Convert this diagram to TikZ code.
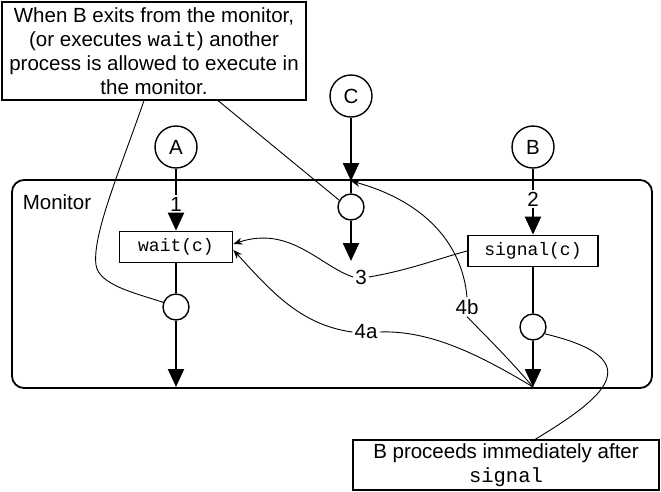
\documentclass[tikz,border=0pt]{standalone}
\usepackage{fontspec}
\setmainfont{Liberation Sans}
\setmonofont{Liberation Mono}
\usetikzlibrary{arrows.meta}
\begin{document}
\begin{tikzpicture}[x=1pt,y=-1pt,
  txt/.style={font=\fontsize{20.5}{24}\selectfont},
  proc/.style={draw, circle, line width=1.4pt, minimum size=42pt, inner sep=0pt, txt},
  cond/.style={draw, circle, line width=1.4pt, minimum size=26pt, inner sep=0pt},
  opbox/.style={draw, line width=1.8pt, font=\fontsize{18}{20}\selectfont\ttfamily, inner sep=0pt, minimum height=31pt},
  flow/.style={line width=2.3pt, -{Triangle[length=18pt,width=16pt]}},
  flowline/.style={line width=2.3pt},
  thinline/.style={line width=0.9pt},
  thinarrow/.style={line width=0.9pt, -{Stealth[length=9pt,width=7pt]}},
  lbl/.style={txt, inner sep=2pt},
  note/.style={draw, line width=1.1pt, txt, align=center, inner sep=0pt},
]
\useasboundingbox (0,0) rectangle (661,491);

% monitor
\node[draw, line width=1.8pt, rounded corners=12pt, minimum width=640pt, minimum height=208pt] (mon) at (332,284) {};
\node[txt] (monlbl) at (57,202) {Monitor};

% notes
\node[note, minimum width=304pt, minimum height=98pt] (top) at (154,51)
  {When B exits from the monitor,\\(or executes \texttt{wait}) another\\process is allowed to execute in\\the monitor.};
\node[note, minimum width=306pt, minimum height=50pt] (bot) at (506,465)
  {B proceeds immediately after\\\texttt{signal}};

% processes
\node[proc] (A) at (176,147) {A};
\node[proc] (B) at (533,147) {B};
\node[proc] (C) at (351,96) {C};

\node[lbl] (l1) at (176,204) {1};
\node[lbl] (l2) at (533,199) {2};

\node[opbox, minimum width=113pt] (wait) at (176,247) {wait(c)};
\node[opbox, minimum width=130pt] (sig) at (533,251) {signal(c)};

\node[cond] (cw) at (176,307) {};
\node[cond] (cc) at (351,207) {};
\node[cond] (cs) at (533,327) {};

\coordinate (ctop) at (351,181);
\coordinate (cend) at (351,261);
\coordinate (wend) at (176,387);
\coordinate (send) at (533,387);

% main flow
\draw[flowline] (A) -- (l1);
\draw[flow] (l1) -- (wait);
\draw[flowline] (B) -- (l2);
\draw[flow] (l2) -- (sig);
\draw[flow] (C) -- (ctop);
\draw[flowline] (ctop) -- (cc);
\draw[flow] (cc) -- (cend);
\draw[flowline] (wait) -- (cw);
\draw[flow] (cw) -- (wend);
\draw[flowline] (sig) -- (cs);
\draw[flow] (cs) -- (send);

% thin labelled curves
\node[lbl] (l3) at (361,277) {3};
\node[lbl] (l4a) at (366,332) {4a};
\node[lbl] (l4b) at (467,307) {4b};

\draw[thinline] (sig.west) .. controls (440,258) and (410,270) .. (l3.east);
\draw[thinarrow] (l3.west) .. controls (320,266) and (290,225) .. (wait.3);
\draw[thinline] (send) .. controls (480,355) and (430,330) .. (l4a.east);
\draw[thinarrow] (l4a.west) .. controls (300,325) and (270,290) .. (wait.-3);
\draw[thinline] (send) .. controls (510,360) and (485,335) .. (l4b.south);
\draw[thinarrow] (l4b.north) .. controls (462,240) and (420,200) .. (ctop);

% callout lines
\draw[thinline] ([xshift=-10pt]top.south) .. controls (120,170) and (92,235) .. (96,265)
  .. controls (99,285) and (135,293) .. (cw.160);
\draw[thinline] ([xshift=64pt]top.south) -- (cc.150);
\draw[thinline] (cs.-30) .. controls (655,360) and (600,400) .. ([xshift=29pt]bot.north);
\end{tikzpicture}
\end{document}
